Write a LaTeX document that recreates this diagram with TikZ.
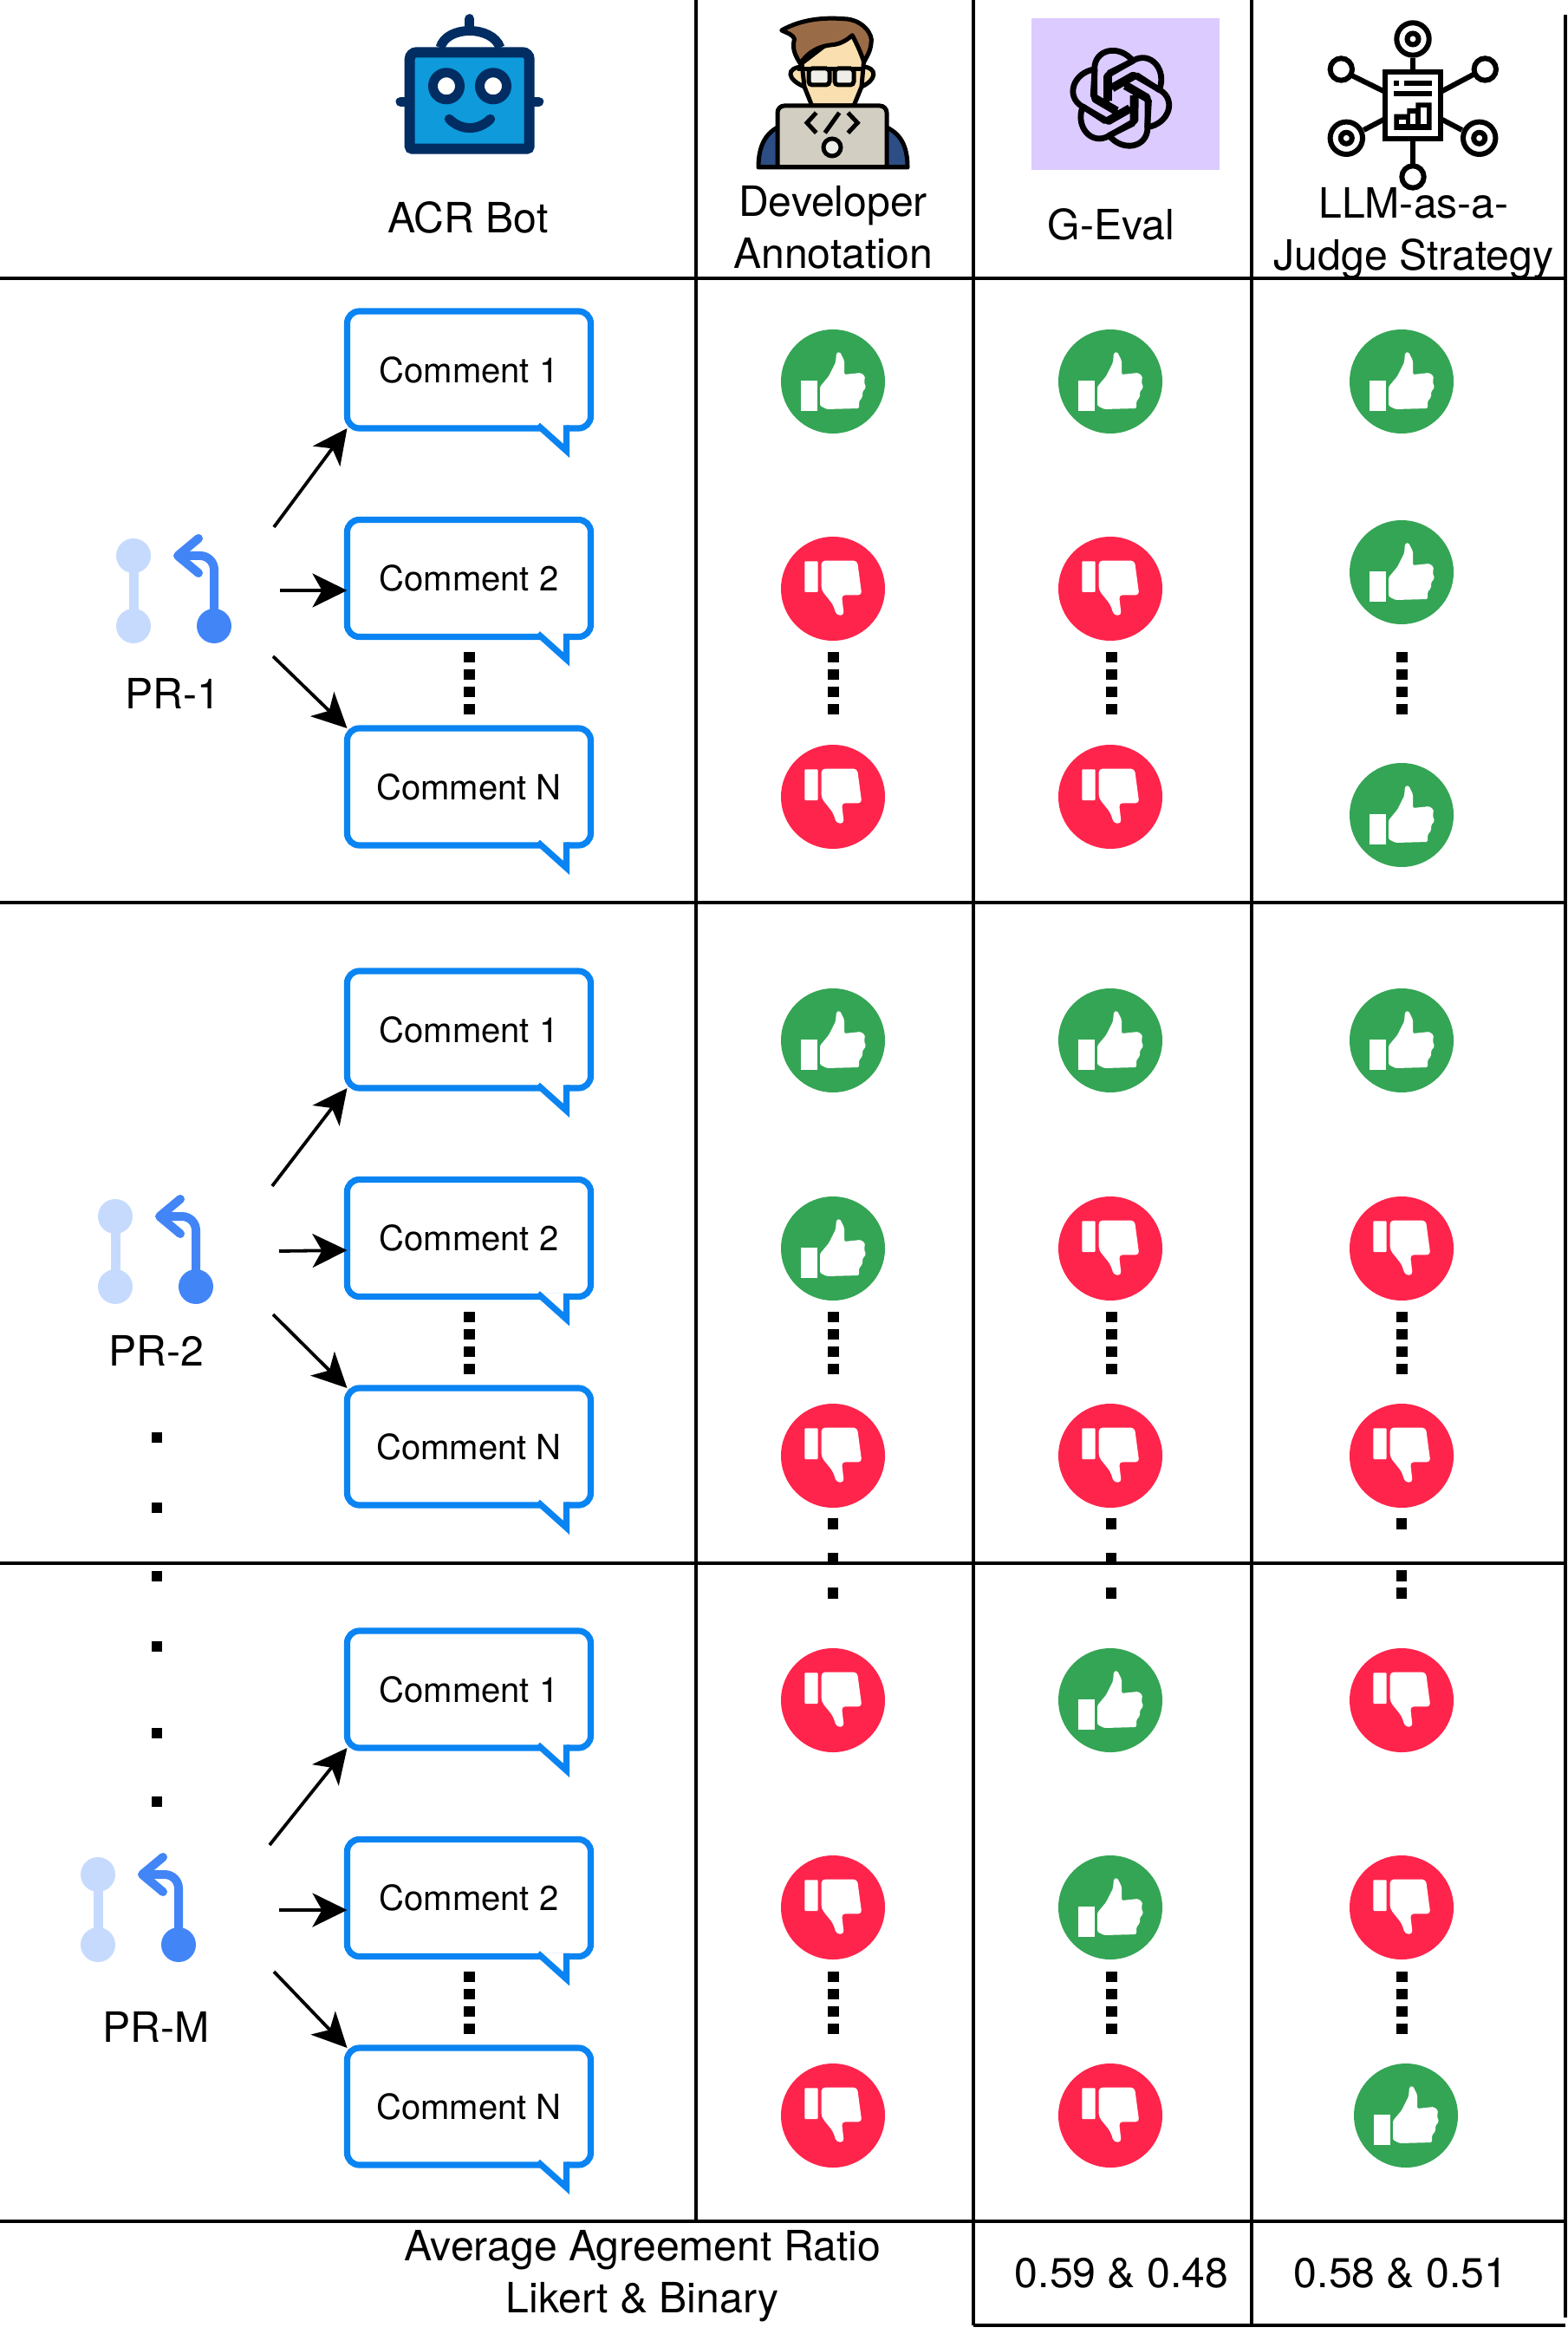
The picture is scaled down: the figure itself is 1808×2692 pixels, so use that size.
\documentclass[tikz,border=0pt]{standalone}
\usepackage{fontspec}
\setmainfont{TeX Gyre Heros}
\usetikzlibrary{arrows.meta}
\definecolor{bubbleblue}{HTML}{0A84F2}
\definecolor{upgreen}{HTML}{34A555}
\definecolor{downred}{HTML}{FF244C}
\definecolor{branchdark}{HTML}{4285F7}
\definecolor{branchlight}{HTML}{C6DAFD}
\definecolor{robotblue}{HTML}{0E9ADB}
\definecolor{robotnavy}{HTML}{012D62}
\definecolor{skin}{HTML}{FADFB0}
\definecolor{hairbrown}{HTML}{9A6B47}
\definecolor{coat}{HTML}{2C4E85}
\definecolor{laptop}{HTML}{D3CEC2}
\definecolor{lens}{HTML}{F0EEE8}
\definecolor{lilac}{HTML}{DCCBFF}
\tikzset{
    bubble/.style={draw=bubbleblue,line width=0.72mm,rounded corners=1.4mm,fill=white,minimum width=28.1mm,minimum height=13.5mm,inner sep=0pt,outer sep=0pt,font=\fontsize{11.4}{13}\selectfont},
    tailline/.style={draw=bubbleblue,line width=0.72mm,miter limit=10},
    headtext/.style={font=\fontsize{13.7}{17}\selectfont,align=center,inner sep=0pt},
    rule/.style={line width=0.4mm},
    flow/.style={line width=0.38mm,-{Stealth[length=4mm,width=3.9mm,inset=1.1mm]}},
    dotted line/.style={line width=1.3mm,dash pattern=on 1.16mm off 0.84mm},
    vote/.style={circle,minimum size=12mm,inner sep=0pt,outer sep=0pt},
    thumbup/.pic={
        \node[vote,fill=upgreen] (-c) {};
        \fill[white] (-37,-1) rectangle (-18,34);
        \fill[white,rounded corners=0.15mm] (-15,6) -- (-5,-6) -- (3,-22) -- (4,-33) -- (8,-34) -- (13,-24) -- (13,-8) -- (32,-10) -- (37,-6) -- (36,1) -- (38,7) -- (34,12) -- (34,18) -- (30,23) -- (30,31) -- (-7,32) -- (-15,28) -- cycle;
    },
    thumbdown/.pic={
        \node[vote,fill=downred] (-c) {};
        \fill[white,rounded corners=0.1mm] (-32.7,-31.7) rectangle (-17.3,4);
        \fill[white,rounded corners=0.4mm] (-13.3,1.7) -- (-13.3,-32.3) -- (28,-32.3) -- (33.3,7.3) -- (10,7.3) -- (12.7,30.7) -- (4,30.7) -- (0,18.3) -- cycle;
    },
    prbranch/.pic={
        \draw[branchlight,line width=1.1mm] (0,-81) -- (0,0);
        \fill[branchlight] (0,-81) circle[radius=20];
        \fill[branchlight] (0,0) circle[radius=20];
        \draw[branchdark,line width=1mm,rounded corners=1.6mm] (93,0) -- (93,-81) -- (51,-81);
        \draw[branchdark,line width=1mm,line cap=round,line join=round] (75,-101) -- (51,-81) -- (75,-61);
        \fill[branchdark] (93,0) circle[radius=20];
    },
    target/.pic={
        \draw[line width=0.6mm,fill=white] (0,0) circle[radius=18.7];
        \draw[line width=0.6mm] (0,0) circle[radius=6.5];
    },
}
\begin{document}
\begin{tikzpicture}[x=0.1mm,y=-0.1mm]
    \useasboundingbox (0,0) rectangle (1808,2692);
    \draw[rule] (803,0) -- (803,2562);
    \draw[rule] (1123,0) -- (1123,2682);
    \draw[rule] (1444,0) -- (1444,2682);
    \draw[rule] (1806,17) -- (1806,2673);
    \draw[rule] (0,321) -- (1808,321);
    \draw[rule] (0,1041) -- (1808,1041);
    \draw[rule] (0,1803) -- (1808,1803);
    \draw[rule] (0,2562) -- (1806,2562);
    \draw[rule] (1123,2682) -- (1806,2682);

    \draw[robotnavy,line width=1.1mm,fill=white] (508,55) .. controls (515,29) and (568,29) .. (577,55);
    \draw[robotnavy,line width=1.1mm,line cap=round] (541.7,21.7) -- (541.7,32);
    \draw[robotnavy,line width=1.1mm,line cap=round] (462,117.3) -- (472,117.3);
    \draw[robotnavy,line width=1.1mm,line cap=round] (611,117.3) -- (621.7,117.3);
    \draw[robotnavy,line width=1.2mm,fill=robotblue] (472.7,115) [rounded corners=0.8mm] -- (472.7,60.3) -- (610.7,60.3) -- (610.7,115) [rounded corners=0.3mm] -- (610.7,171.7) -- (472.7,171.7) -- cycle;
    \draw[robotnavy,line width=1.1mm,fill=white] (515,99.3) circle[radius=15.5];
    \draw[robotnavy,line width=1.1mm,fill=white] (569,99.3) circle[radius=15.5];
    \draw[robotnavy,line width=1.1mm,line cap=round] (518.3,137.3) .. controls (532,151) and (552,151) .. (565.7,137.3);

    \draw[line width=0.5mm,fill=coat,line join=round] (875,193) .. controls (875,170) and (882,155) .. (897,147) -- (1023,147) .. controls (1040,155) and (1047,170) .. (1047,193) -- cycle;
    \draw[line width=0.5mm,fill=skin] (926,77) .. controls (906,78) and (908,92) .. (928,100);
    \draw[line width=0.5mm,fill=skin] (996,77) .. controls (1012,78) and (1012,92) .. (994,100);
    \draw[line width=0.5mm,fill=skin] (936.7,122) -- (928,100) -- (925,73) -- (955,50) -- (985,40) -- (997,65) -- (994,100) -- (985,122) -- cycle;
    \draw[line width=0.5mm,fill=hairbrown,line join=round] (901.7,35) .. controls (925,22) and (950,20) .. (973.3,21.7) .. controls (995,22) and (1008,40) .. (1005,50) .. controls (1004,60) and (1000,65) .. (996.7,71.7) .. controls (993,60) and (988,50) .. (983.3,40.7) .. controls (975,48) and (968,51) .. (960,51.7) .. controls (945,53) and (932,60) .. (923.3,73.3) .. controls (916,62) and (914,55) .. (916.5,45) .. controls (915,40) and (908,38) .. (901.7,35) -- cycle;
    \draw[line width=0.5mm] (920,80) -- (997,80);
    \draw[line width=0.5mm,fill=lens,rounded corners=0.4mm] (933,79) rectangle (957,98);
    \draw[line width=0.5mm,fill=lens,rounded corners=0.4mm] (963,79) rectangle (985,98);
    \draw[line width=0.5mm,fill=laptop,rounded corners=0.8mm] (897,193) -- (897,122) -- (1023,122) -- (1023,193);
    \draw[line width=0.5mm] (875,193) -- (1047,193);
    \draw[line width=0.5mm] (941.7,130) -- (931,141.7) -- (941.7,153.3);
    \draw[line width=0.5mm] (968.3,130) -- (951.7,153.3);
    \draw[line width=0.5mm] (978.3,130) -- (989.3,141.7) -- (978.3,153.3);
    \draw[line width=0.5mm,fill=lens] (960,170) circle[radius=10];

    \fill[lilac] (1190,20.7) rectangle (1407,196);
    \foreach \a in {0,60,...,300}
        \draw[shift={(1293.3,113.3)},rotate=-\a,scale=0.92,line width=0.68mm,line join=round] (-5,18.3) -- (-33.3,1.7) -- (-33.3,-36.7) .. controls (-33.3,-62) and (-2,-68) .. (15,-46.7) -- (-15,-31.7) -- (-15,3.3);

    \draw[line width=0.6mm] (1630,66.7) -- (1630,83);
    \draw[line width=0.6mm] (1560,87.3) -- (1598,106);
    \draw[line width=0.6mm] (1662,106) -- (1701.7,85);
    \draw[line width=0.6mm] (1573.3,150) -- (1598,137);
    \draw[line width=0.6mm] (1662,137) -- (1686.7,150);
    \draw[line width=0.6mm] (1630,160) -- (1630,190);
    \draw[line width=0.6mm,fill=white] (1598,83) rectangle (1662,159.7);
    \fill (1608.3,93.3) rectangle (1614,99);
    \draw[line width=0.57mm] (1620,96) -- (1651.7,96);
    \draw[line width=0.57mm] (1608.3,108.3) -- (1651.7,108.3);
    \fill (1608.3,131.7) -- (1623.3,131.7) -- (1623.3,125) -- (1633.3,125) -- (1633.3,118.3) -- (1651.7,118.3) -- (1651.7,150) -- (1608.3,150) -- cycle;
    \fill[white] (1614,137.7) rectangle (1621.7,143.3);
    \fill[white] (1626.7,131) rectangle (1632.7,143.3);
    \fill[white] (1639.3,124.3) rectangle (1645.7,143.3);
    \pic (tgtop) at (1630,45) {target};
    \pic (tgleft) at (1553.3,159.3) {target};
    \pic (tgright) at (1706.7,159.3) {target};
    \draw[line width=0.6mm,fill=white] (1547.3,80) circle[radius=12.7];
    \draw[line width=0.6mm,fill=white] (1713.3,80) circle[radius=12.7];
    \draw[line width=0.6mm,fill=white] (1630,204) circle[radius=12.7];

    \node[headtext] (acr) at (540,251) {ACR Bot};
    \node[headtext] (dev) at (961,262) {Developer\\Annotation};
    \node[headtext] (geval) at (1282,259) {G-Eval};
    \node[headtext] (judge) at (1631,269) {LLM-as-a-\\Judge Strategy};
    \node[headtext] (avg) at (741,2625) {Average Agreement Ratio\\Likert \& Binary};
    \node[headtext] (gval) at (1294,2622) {0.59 \& 0.48};
    \node[headtext] (jval) at (1616,2622) {0.58 \& 0.51};

    \pic (bra) at (154,722) {prbranch};
    \pic (brb) at (133,1484) {prbranch};
    \pic (brc) at (113,2243) {prbranch};
    \node[headtext] (pra) at (199,800) {PR-1};
    \node[headtext] (prb) at (180,1558) {PR-2};
    \node[headtext] (prm) at (180,2338) {PR-M};

    \foreach \g/\y/\xa/\ya/\xb/\yb/\xc/\yc in {a/426.5/316/608/323/681/315/757, b/1187.5/314/1368/322/1443/315/1516, c/1948.5/311/2128/322/2203/316/2274}{
        \node[bubble] (\g1) at (541,\y) {Comment 1};
        \node[bubble] (\g2) at ([shift={(0,240.5)}]\g1.center) {Comment 2};
        \node[bubble] (\g3) at ([shift={(0,240.5)}]\g2.center) {Comment N};
        \foreach \n in {1,2,3}{
            \fill[white] ([shift={(-57,-4)}]\g\n.south east) -- ([shift={(-28,-4)}]\g\n.south east) -- ([shift={(-28,26)}]\g\n.south east) -- ([shift={(-57,0)}]\g\n.south east) -- cycle;
            \draw[tailline] ([shift={(-61,-3.6)}]\g\n.south east) -- ([shift={(-28,26)}]\g\n.south east) -- ([shift={(-28,-3.6)}]\g\n.south east);
        }
        \coordinate (\g s1) at (\xa,\ya);
        \coordinate (\g s2) at (\xb,\yb);
        \coordinate (\g s3) at (\xc,\yc);
        \draw[flow] (\g s1) -- (\g1.south west);
        \draw[flow] (\g s2) -- ([shift={(0,14)}]\g2.west);
        \draw[flow] (\g s3) -- (\g3.north west);
        \draw[dotted line,shorten <=1.75mm,shorten >=1.64mm] (\g2.south) -- (\g3.north);
    }

    \foreach \y in {1658,1739,1818,1899,1999,2078}
        \fill (175,\y-6) rectangle (187,\y+6);

    \foreach \n/\x/\ya/\yb/\yc/\a/\b/\c in {
        da/961/440/679/919/thumbup/thumbdown/thumbdown,
        ga/1281/440/679/919/thumbup/thumbdown/thumbdown,
        ja/1617/440/660/940/thumbup/thumbup/thumbup,
        db/961/1200/1440/1679/thumbup/thumbup/thumbdown,
        gb/1281/1200/1440/1679/thumbup/thumbdown/thumbdown,
        jb/1617/1200/1440/1679/thumbup/thumbdown/thumbdown,
        dc/961/1961/2200/2440/thumbdown/thumbdown/thumbdown,
        gc/1281/1961/2200/2440/thumbup/thumbup/thumbdown}{
        \pic (\n1) at (\x,\ya) {\a};
        \pic (\n2) at (\x,\yb) {\b};
        \pic (\n3) at (\x,\yc) {\c};
    }
    \pic (jc1) at (1617,1961) {thumbdown};
    \pic (jc2) at (1617,2200) {thumbdown};
    \pic (jc3) at (1622,2440) {thumbup};
    \foreach \x in {961,1282,1617}{
        \draw[dotted line] (\x,752) -- (\x,823.6);
        \draw[dotted line] (\x,1513) -- (\x,1584.6);
        \draw[dotted line] (\x,2274) -- (\x,2345.6);
        \fill (\x-6,1750.5) rectangle (\x+6,1763.5);
    }
    \foreach \x in {961,1282}{
        \fill (\x-6,1790.5) rectangle (\x+6,1803.5);
        \fill (\x-6,1830.5) rectangle (\x+6,1843.5);
    }
    \fill (1611,1810.5) rectangle (1623,1823.5);
    \fill (1611,1830.5) rectangle (1623,1843.5);
\end{tikzpicture}
\end{document}
